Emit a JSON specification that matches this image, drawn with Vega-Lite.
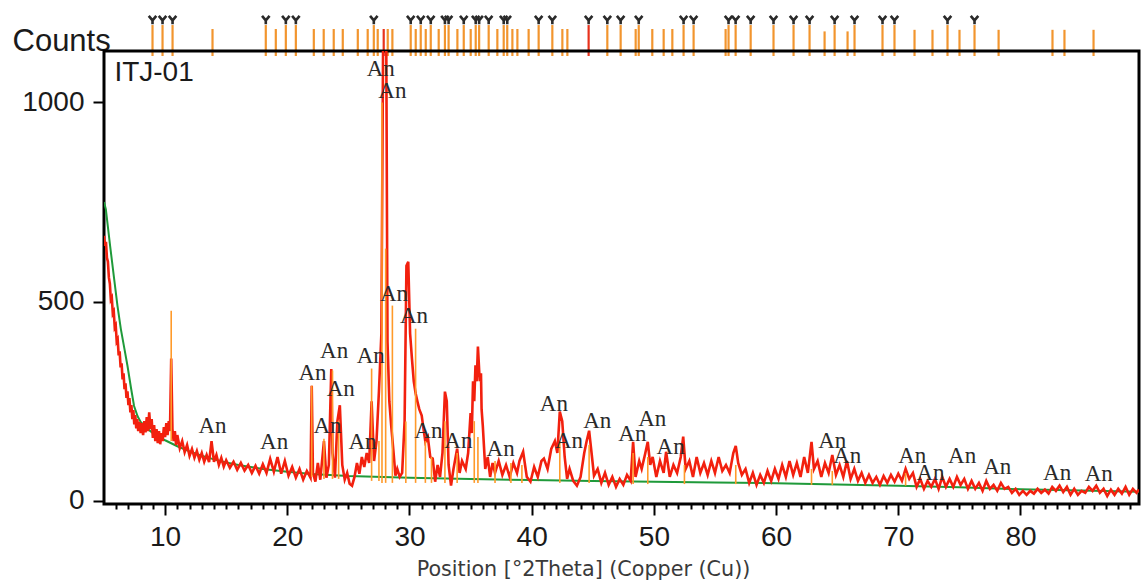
{
  "$schema": "https://vega.github.io/schema/vega-lite/v6.json",
  "background": "white",
  "padding": {"left": 12, "top": 10, "right": 2, "bottom": 2},
  "spacing": 0,
  "bounds": "flush",
  "config": {"axis": {"grid": false}},
  "datasets": {
    "red": [
      {"t":5.0,"c":665},{"t":5.08,"c":640},{"t":5.16,"c":650},{"t":5.24,"c":610},{"t":5.32,"c":600},{"t":5.4,"c":560},{"t":5.48,"c":545},{"t":5.56,"c":505},{"t":5.64,"c":510},{"t":5.72,"c":470},{"t":5.8,"c":475},{"t":5.88,"c":435},{"t":5.96,"c":440},{"t":6.04,"c":400},{"t":6.12,"c":405},{"t":6.2,"c":365},{"t":6.28,"c":375},{"t":6.36,"c":335},{"t":6.44,"c":345},{"t":6.52,"c":305},{"t":6.6,"c":320},{"t":6.68,"c":280},{"t":6.76,"c":295},{"t":6.84,"c":258},{"t":6.92,"c":275},{"t":7.0,"c":240},{"t":7.08,"c":258},{"t":7.16,"c":222},{"t":7.24,"c":240},{"t":7.32,"c":205},{"t":7.4,"c":228},{"t":7.48,"c":192},{"t":7.56,"c":215},{"t":7.64,"c":182},{"t":7.72,"c":205},{"t":7.8,"c":175},{"t":7.9,"c":198},{"t":8.0,"c":170},{"t":8.1,"c":195},{"t":8.2,"c":165},{"t":8.3,"c":200},{"t":8.4,"c":172},{"t":8.5,"c":210},{"t":8.6,"c":175},{"t":8.7,"c":222},{"t":8.8,"c":180},{"t":8.9,"c":205},{"t":9.0,"c":158},{"t":9.1,"c":190},{"t":9.2,"c":150},{"t":9.3,"c":180},{"t":9.4,"c":145},{"t":9.5,"c":175},{"t":9.6,"c":142},{"t":9.7,"c":170},{"t":9.8,"c":150},{"t":9.9,"c":185},{"t":10.0,"c":160},{"t":10.1,"c":195},{"t":10.2,"c":165},{"t":10.3,"c":200},{"t":10.4,"c":175},{"t":10.5,"c":357},{"t":10.6,"c":180},{"t":10.7,"c":150},{"t":10.8,"c":175},{"t":10.9,"c":140},{"t":11.0,"c":165},
      {"t":11.2,"c":132},{"t":11.4,"c":150},{"t":11.6,"c":122},{"t":11.8,"c":140},{"t":12.0,"c":113},{"t":12.2,"c":130},{"t":12.4,"c":108},{"t":12.6,"c":125},{"t":12.8,"c":103},{"t":13.0,"c":120},{"t":13.2,"c":98},{"t":13.4,"c":115},{"t":13.6,"c":97},{"t":13.8,"c":150},{"t":14.0,"c":98},{"t":14.2,"c":115},{"t":14.4,"c":90},{"t":14.6,"c":108},{"t":14.8,"c":86},{"t":15.0,"c":102},{"t":15.3,"c":83},{"t":15.6,"c":98},{"t":15.9,"c":78},{"t":16.2,"c":95},{"t":16.5,"c":76},{"t":16.8,"c":90},{"t":17.1,"c":70},{"t":17.4,"c":88},{"t":17.7,"c":68},{"t":18.0,"c":92},{"t":18.3,"c":70},{"t":18.6,"c":105},{"t":18.9,"c":73},{"t":19.2,"c":110},{"t":19.5,"c":68},{"t":19.8,"c":100},{"t":20.1,"c":63},{"t":20.4,"c":85},{"t":20.7,"c":58},{"t":21.0,"c":80},{"t":21.3,"c":53},{"t":21.6,"c":75},{"t":21.9,"c":58},{"t":22.0,"c":289},{"t":22.1,"c":70},{"t":22.3,"c":48},{"t":22.5,"c":95},{"t":22.7,"c":53},{"t":23.0,"c":150},{"t":23.2,"c":58},{"t":23.4,"c":90},{"t":23.6,"c":331},{"t":23.7,"c":120},{"t":23.9,"c":58},{"t":24.1,"c":200},{"t":24.3,"c":240},{"t":24.5,"c":90},{"t":24.7,"c":53},{"t":24.9,"c":70},{"t":25.1,"c":43},{"t":25.3,"c":38},{"t":25.5,"c":60},{"t":25.7,"c":95},{"t":25.9,"c":68},{"t":26.1,"c":110},{"t":26.3,"c":85},{"t":26.5,"c":120},{"t":26.7,"c":95},{"t":26.9,"c":250},{"t":27.1,"c":100},{"t":27.3,"c":150},{"t":27.5,"c":275},{"t":27.7,"c":420},{"t":27.85,"c":1200},{"t":28.0,"c":1200},{"t":28.1,"c":1150},{"t":28.2,"c":400},{"t":28.35,"c":250},{"t":28.5,"c":190},{"t":28.7,"c":120},{"t":28.85,"c":63},{"t":29.0,"c":80},{"t":29.2,"c":60},{"t":29.4,"c":70},{"t":29.6,"c":200},{"t":29.75,"c":590},{"t":29.9,"c":600},{"t":30.05,"c":420},{"t":30.2,"c":357},{"t":30.35,"c":300},{"t":30.5,"c":270},{"t":30.65,"c":249},{"t":30.8,"c":230},{"t":31.0,"c":214},{"t":31.15,"c":180},{"t":31.3,"c":148},{"t":31.5,"c":160},{"t":31.7,"c":110},{"t":31.9,"c":106},{"t":32.1,"c":48},{"t":32.3,"c":90},{"t":32.5,"c":60},{"t":32.7,"c":120},{"t":32.9,"c":274},{"t":33.05,"c":250},{"t":33.2,"c":90},{"t":33.4,"c":38},{"t":33.6,"c":80},{"t":33.9,"c":131},{"t":34.1,"c":70},{"t":34.3,"c":100},{"t":34.6,"c":80},{"t":34.8,"c":120},{"t":35.0,"c":220},{"t":35.1,"c":170},{"t":35.2,"c":300},{"t":35.3,"c":250},{"t":35.4,"c":340},{"t":35.5,"c":300},{"t":35.6,"c":387},{"t":35.75,"c":300},{"t":35.85,"c":320},{"t":35.9,"c":230},{"t":36.0,"c":188},{"t":36.2,"c":80},{"t":36.4,"c":110},{"t":36.6,"c":60},{"t":36.8,"c":95},{"t":37.0,"c":70},{"t":37.3,"c":100},{"t":37.6,"c":65},{"t":37.9,"c":90},{"t":38.2,"c":60},{"t":38.5,"c":95},{"t":38.8,"c":70},{"t":39.0,"c":100},{"t":39.3,"c":123},{"t":39.6,"c":60},{"t":39.9,"c":48},{"t":40.2,"c":85},{"t":40.5,"c":60},{"t":40.8,"c":100},{"t":41.0,"c":106},{"t":41.3,"c":80},{"t":41.6,"c":130},{"t":41.9,"c":150},{"t":42.1,"c":120},{"t":42.3,"c":224},{"t":42.5,"c":200},{"t":42.7,"c":110},{"t":42.9,"c":55},{"t":43.1,"c":80},{"t":43.4,"c":50},{"t":43.7,"c":38},{"t":44.0,"c":60},{"t":44.3,"c":120},{"t":44.5,"c":150},{"t":44.7,"c":176},{"t":44.9,"c":120},{"t":45.1,"c":63},{"t":45.4,"c":80},{"t":45.7,"c":45},{"t":46.0,"c":70},{"t":46.3,"c":40},{"t":46.6,"c":60},{"t":46.9,"c":35},{"t":47.2,"c":55},{"t":47.5,"c":40},{"t":47.8,"c":65},{"t":48.1,"c":50},{"t":48.3,"c":148},{"t":48.5,"c":60},{"t":48.8,"c":100},{"t":49.0,"c":80},{"t":49.3,"c":120},{"t":49.5,"c":148},{"t":49.7,"c":90},{"t":49.9,"c":110},{"t":50.2,"c":60},{"t":50.5,"c":100},{"t":50.8,"c":70},{"t":51.0,"c":123},{"t":51.3,"c":60},{"t":51.6,"c":90},{"t":51.9,"c":70},{"t":52.2,"c":110},{"t":52.4,"c":161},{"t":52.6,"c":80},{"t":52.9,"c":100},{"t":53.2,"c":60},{"t":53.5,"c":110},{"t":53.8,"c":70},{"t":54.1,"c":95},{"t":54.4,"c":65},{"t":54.7,"c":100},{"t":55.0,"c":70},{"t":55.3,"c":110},{"t":55.6,"c":75},{"t":55.9,"c":90},{"t":56.2,"c":70},{"t":56.5,"c":120},{"t":56.7,"c":138},{"t":56.9,"c":95},{"t":57.2,"c":65},{"t":57.5,"c":80},{"t":57.8,"c":45},{"t":58.1,"c":70},{"t":58.4,"c":40},{"t":58.7,"c":65},{"t":59.0,"c":45},{"t":59.3,"c":75},{"t":59.6,"c":50},{"t":59.9,"c":80},{"t":60.2,"c":55},{"t":60.5,"c":90},{"t":60.8,"c":60},{"t":61.1,"c":100},{"t":61.4,"c":65},{"t":61.7,"c":95},{"t":62.0,"c":60},{"t":62.3,"c":110},{"t":62.6,"c":70},{"t":62.9,"c":148},{"t":63.1,"c":80},{"t":63.4,"c":100},{"t":63.7,"c":60},{"t":64.0,"c":95},{"t":64.3,"c":70},{"t":64.6,"c":115},{"t":64.9,"c":65},{"t":65.2,"c":90},{"t":65.5,"c":60},{"t":65.8,"c":100},{"t":66.1,"c":55},{"t":66.4,"c":80},{"t":66.7,"c":50},{"t":67.0,"c":70},{"t":67.3,"c":45},{"t":67.6,"c":65},{"t":67.9,"c":45},{"t":68.2,"c":60},{"t":68.5,"c":40},{"t":68.8,"c":62},{"t":69.1,"c":45},{"t":69.4,"c":65},{"t":69.7,"c":48},{"t":70.0,"c":68},{"t":70.3,"c":50},{"t":70.6,"c":80},{"t":70.9,"c":55},{"t":71.2,"c":70},{"t":71.5,"c":35},{"t":71.8,"c":55},{"t":72.1,"c":30},{"t":72.4,"c":50},{"t":72.7,"c":35},{"t":73.0,"c":55},{"t":73.3,"c":30},{"t":73.6,"c":60},{"t":73.9,"c":35},{"t":74.2,"c":55},{"t":74.5,"c":35},{"t":74.8,"c":60},{"t":75.1,"c":40},{"t":75.4,"c":55},{"t":75.7,"c":30},{"t":76.0,"c":50},{"t":76.3,"c":30},{"t":76.6,"c":45},{"t":76.9,"c":25},{"t":77.2,"c":50},{"t":77.5,"c":30},{"t":77.8,"c":40},{"t":78.1,"c":25},{"t":78.4,"c":45},{"t":78.7,"c":30},{"t":79.0,"c":35},{"t":79.3,"c":20},{"t":79.6,"c":30},{"t":79.9,"c":15},{"t":80.2,"c":25},{"t":80.5,"c":15},{"t":80.8,"c":25},{"t":81.1,"c":18},{"t":81.4,"c":30},{"t":81.7,"c":20},{"t":82.0,"c":28},{"t":82.3,"c":18},{"t":82.6,"c":35},{"t":82.9,"c":25},{"t":83.2,"c":38},{"t":83.5,"c":22},{"t":83.8,"c":35},{"t":84.1,"c":15},{"t":84.4,"c":30},{"t":84.7,"c":15},{"t":85.0,"c":25},{"t":85.3,"c":20},{"t":85.6,"c":35},{"t":85.9,"c":25},{"t":86.2,"c":38},{"t":86.5,"c":20},{"t":86.8,"c":30},{"t":87.1,"c":12},{"t":87.4,"c":28},{"t":87.7,"c":15},{"t":88.0,"c":30},{"t":88.3,"c":18},{"t":88.6,"c":35},{"t":88.9,"c":15},{"t":89.2,"c":30},{"t":89.5,"c":20},{"t":89.7,"c":28}
    ],
    "bg": [
      {"t":5.0,"c":750},{"t":5.15,"c":732},{"t":5.5,"c":640},{"t":5.83,"c":557},{"t":6.1,"c":490},{"t":6.38,"c":431},{"t":6.65,"c":385},{"t":6.92,"c":339},{"t":7.2,"c":285},{"t":7.46,"c":238},{"t":7.75,"c":212},{"t":8.0,"c":198},{"t":8.5,"c":182},{"t":9.0,"c":170},{"t":10.0,"c":152},{"t":11.0,"c":137},{"t":12.0,"c":124},{"t":13.0,"c":113},{"t":14.0,"c":104},{"t":15.0,"c":96},{"t":16.0,"c":90},{"t":17.0,"c":85},{"t":18.0,"c":80},{"t":20.0,"c":73},{"t":22.0,"c":67},{"t":25.0,"c":62},{"t":30.0,"c":58},{"t":35.0,"c":55},{"t":40.0,"c":52},{"t":45.0,"c":50},{"t":50.0,"c":48},{"t":55.0,"c":46},{"t":60.0,"c":44},{"t":65.0,"c":41},{"t":70.0,"c":38},{"t":75.0,"c":34},{"t":80.0,"c":29},{"t":85.0,"c":26},{"t":89.7,"c":23}
    ],
    "sticks": [
      {"t":10.5,"b":150,"c":477},{"t":22.0,"b":60,"c":289},{"t":23.0,"b":55,"c":156},{"t":23.7,"b":55,"c":327},{"t":24.2,"b":55,"c":200},{"t":26.9,"b":50,"c":332},{"t":27.5,"b":50,"c":150},{"t":27.75,"b":45,"c":1000},{"t":28.05,"b":45,"c":633},{"t":28.6,"b":45,"c":490},{"t":29.7,"b":45,"c":199},{"t":30.5,"b":45,"c":432},{"t":31.3,"b":45,"c":150},{"t":31.8,"b":45,"c":110},{"t":32.9,"b":45,"c":200},{"t":33.9,"b":45,"c":120},{"t":35.3,"b":45,"c":200},{"t":35.6,"b":45,"c":160},{"t":37.0,"b":45,"c":100},{"t":38.3,"b":45,"c":95},{"t":39.2,"b":45,"c":90},{"t":42.3,"b":45,"c":150},{"t":44.7,"b":45,"c":140},{"t":48.3,"b":42,"c":120},{"t":49.5,"b":42,"c":110},{"t":52.5,"b":42,"c":90},{"t":56.7,"b":42,"c":90},{"t":62.9,"b":40,"c":80},{"t":64.6,"b":40,"c":75},{"t":70.6,"b":38,"c":70}
    ],
    "labels": [
      {"t":27.65,"c":1083,"txt":"An"},{"t":28.6,"c":1029,"txt":"An"},{"t":28.73,"c":519,"txt":"An"},{"t":30.37,"c":464,"txt":"An"},{"t":13.88,"c":188,"txt":"An"},{"t":18.92,"c":147,"txt":"An"},{"t":22.06,"c":322,"txt":"An"},{"t":23.83,"c":376,"txt":"An"},{"t":24.37,"c":280,"txt":"An"},{"t":23.29,"c":188,"txt":"An"},{"t":26.83,"c":364,"txt":"An"},{"t":26.15,"c":147,"txt":"An"},{"t":31.55,"c":174,"txt":"An"},{"t":34.0,"c":149,"txt":"An"},{"t":37.46,"c":130,"txt":"An"},{"t":41.82,"c":243,"txt":"An"},{"t":43.05,"c":151,"txt":"An"},{"t":45.37,"c":201,"txt":"An"},{"t":48.24,"c":167,"txt":"An"},{"t":49.87,"c":205,"txt":"An"},{"t":51.37,"c":134,"txt":"An"},{"t":64.6,"c":151,"txt":"An"},{"t":65.82,"c":113,"txt":"An"},{"t":71.14,"c":113,"txt":"An"},{"t":72.64,"c":71,"txt":"An"},{"t":75.23,"c":113,"txt":"An"},{"t":78.1,"c":84,"txt":"An"},{"t":83.0,"c":71,"txt":"An"},{"t":86.41,"c":67,"txt":"An"}
    ],
    "sample": [{"t":5.85,"c":1054,"txt":"ITJ-01"}],
    "strip": [
      {"t":8.97,"h":0.78,"peak":true,"kind":"ref"},{"t":9.79,"h":0.78,"peak":true,"kind":"ref"},{"t":10.61,"h":0.78,"peak":true,"kind":"ref"},{"t":13.88,"h":0.68,"peak":false,"kind":"ref"},{"t":18.24,"h":0.78,"peak":true,"kind":"ref"},{"t":19.06,"h":0.68,"peak":false,"kind":"ref"},{"t":19.88,"h":0.78,"peak":true,"kind":"ref"},{"t":20.7,"h":0.78,"peak":true,"kind":"ref"},{"t":22.17,"h":0.68,"peak":false,"kind":"ref"},{"t":22.98,"h":0.68,"peak":false,"kind":"ref"},{"t":23.8,"h":0.68,"peak":false,"kind":"ref"},{"t":24.54,"h":0.68,"peak":false,"kind":"ref"},{"t":25.77,"h":0.68,"peak":false,"kind":"ref"},{"t":26.58,"h":0.68,"peak":false,"kind":"ref"},{"t":27.08,"h":0.78,"peak":true,"kind":"ref"},{"t":27.4,"h":0.68,"peak":false,"kind":"ref"},{"t":27.89,"h":0.68,"peak":false,"kind":"red"},{"t":28.22,"h":0.68,"peak":false,"kind":"ref"},{"t":28.6,"h":0.68,"peak":false,"kind":"ref"},{"t":30.1,"h":0.78,"peak":true,"kind":"ref"},{"t":30.51,"h":0.68,"peak":false,"kind":"ref"},{"t":30.92,"h":0.78,"peak":true,"kind":"ref"},{"t":31.33,"h":0.68,"peak":false,"kind":"ref"},{"t":31.74,"h":0.78,"peak":true,"kind":"ref"},{"t":32.39,"h":0.68,"peak":false,"kind":"ref"},{"t":32.9,"h":0.78,"peak":true,"kind":"ref"},{"t":33.2,"h":0.78,"peak":true,"kind":"ref"},{"t":33.92,"h":0.68,"peak":false,"kind":"ref"},{"t":34.44,"h":0.78,"peak":true,"kind":"ref"},{"t":35.01,"h":0.68,"peak":false,"kind":"ref"},{"t":35.42,"h":0.78,"peak":true,"kind":"ref"},{"t":35.7,"h":0.78,"peak":true,"kind":"ref"},{"t":36.48,"h":0.78,"peak":true,"kind":"ref"},{"t":37.19,"h":0.68,"peak":false,"kind":"ref"},{"t":37.71,"h":0.78,"peak":true,"kind":"ref"},{"t":38.0,"h":0.78,"peak":true,"kind":"ref"},{"t":38.42,"h":0.68,"peak":false,"kind":"ref"},{"t":38.83,"h":0.68,"peak":false,"kind":"ref"},{"t":39.75,"h":0.68,"peak":false,"kind":"ref"},{"t":40.57,"h":0.78,"peak":true,"kind":"ref"},{"t":41.69,"h":0.78,"peak":true,"kind":"ref"},{"t":42.51,"h":0.68,"peak":false,"kind":"ref"},{"t":42.92,"h":0.68,"peak":false,"kind":"ref"},{"t":44.66,"h":0.78,"peak":true,"kind":"red"},{"t":46.19,"h":0.78,"peak":true,"kind":"ref"},{"t":47.28,"h":0.78,"peak":true,"kind":"ref"},{"t":48.51,"h":0.68,"peak":false,"kind":"ref"},{"t":48.76,"h":0.78,"peak":true,"kind":"ref"},{"t":49.87,"h":0.68,"peak":false,"kind":"ref"},{"t":50.8,"h":0.68,"peak":false,"kind":"ref"},{"t":51.51,"h":0.68,"peak":false,"kind":"ref"},{"t":52.43,"h":0.78,"peak":true,"kind":"ref"},{"t":53.25,"h":0.78,"peak":true,"kind":"ref"},{"t":55.87,"h":0.68,"peak":false,"kind":"ref"},{"t":56.11,"h":0.78,"peak":true,"kind":"ref"},{"t":56.69,"h":0.78,"peak":true,"kind":"ref"},{"t":57.92,"h":0.78,"peak":true,"kind":"ref"},{"t":59.79,"h":0.78,"peak":true,"kind":"ref"},{"t":61.43,"h":0.78,"peak":true,"kind":"ref"},{"t":62.74,"h":0.78,"peak":true,"kind":"ref"},{"t":63.97,"h":0.62,"peak":false,"kind":"ref"},{"t":64.79,"h":0.78,"peak":true,"kind":"ref"},{"t":65.85,"h":0.62,"peak":false,"kind":"ref"},{"t":66.42,"h":0.78,"peak":true,"kind":"ref"},{"t":68.71,"h":0.78,"peak":true,"kind":"ref"},{"t":69.69,"h":0.78,"peak":true,"kind":"ref"},{"t":71.33,"h":0.66,"peak":false,"kind":"ref"},{"t":72.8,"h":0.66,"peak":false,"kind":"ref"},{"t":74.03,"h":0.78,"peak":true,"kind":"ref"},{"t":75.01,"h":0.66,"peak":false,"kind":"ref"},{"t":76.24,"h":0.78,"peak":true,"kind":"ref"},{"t":78.21,"h":0.66,"peak":false,"kind":"ref"},{"t":82.62,"h":0.66,"peak":false,"kind":"ref"},{"t":83.6,"h":0.66,"peak":false,"kind":"ref"},{"t":85.98,"h":0.66,"peak":false,"kind":"ref"}
    ]
  },
  "vconcat": [
    {
      "width": 1035,
      "height": 40,
      "view": {"stroke": null},
      "data": {"name": "strip"},
      "encoding": {
        "x": {"field": "t", "type": "quantitative", "scale": {"domain": [5, 89.7], "nice": false, "zero": false}, "axis": null}
      },
      "layer": [
        {
          "mark": {"type": "rule", "strokeWidth": 2.2},
          "encoding": {
            "y": {"field": "h", "type": "quantitative", "scale": {"domain": [0.126, 1.134], "nice": false, "zero": false},
              "axis": {"title": "Counts", "titleAngle": 0, "titleAlign": "left", "titleBaseline": "alphabetic", "titleX": -92, "titleY": 39, "titleFont": "Liberation Sans", "titleFontSize": 31, "titleFontWeight": "normal", "titleColor": "#1a1a1a", "labels": false, "ticks": false, "domain": false, "grid": false}},
            "y2": {"datum": 0},
            "color": {"field": "kind", "type": "nominal", "scale": {"domain": ["ref", "red"], "range": ["#f2952e", "#e8321c"]}, "legend": null}
          }
        },
        {
          "transform": [{"filter": "datum.peak"}],
          "mark": {"type": "point", "shape": "M-0.9,-1L0,0.1L0.9,-1M0,0L0,1", "filled": false, "stroke": "#2a2a2a", "strokeWidth": 2.6, "size": 70, "opacity": 1},
          "encoding": {
            "y": {"datum": 0.907, "type": "quantitative"}
          }
        }
      ]
    },
    {
      "width": 1035,
      "height": 453,
      "view": {"stroke": "#000000", "strokeWidth": 3},
      "resolve": {"axis": {"x": "independent"}},
      "encoding": {
        "x": {"field": "t", "type": "quantitative", "scale": {"domain": [5, 89.7], "nice": false, "zero": false}, "axis": null},
        "y": {"field": "c", "type": "quantitative", "scale": {"domain": [-8, 1129], "nice": false, "zero": false},
          "axis": {"title": null, "values": [0, 500, 1000], "format": "d", "tickSize": 11, "tickWidth": 2, "tickColor": "#000", "domain": false,
            "labelFont": "Liberation Sans", "labelFontSize": 28, "labelColor": "#1a1a1a", "labelPadding": 9}}
      },
      "layer": [
        {
          "data": {"name": "bg"},
          "mark": {"type": "line", "color": "#1f9a3a", "strokeWidth": 2, "clip": true},
          "encoding": {
            "x": {"field": "t", "type": "quantitative", "scale": {"domain": [5, 89.7], "nice": false, "zero": false},
              "axis": {"orient": "bottom", "title": "Position [°2Theta] (Copper (Cu))", "values": [10,20,30,40,50,60,70,80],
                "tickSize": 11, "tickWidth": 2, "tickColor": "#000", "domain": false, "labelFlush": false,
                "labelFont": "Liberation Sans", "labelFontSize": 28, "labelColor": "#1a1a1a", "labelPadding": 8,
                "titleFont": "DejaVu Sans", "titleFontSize": 20.7, "titleFontWeight": "normal", "titleColor": "#3a3a3a",
                "titleX": 479, "titleY": 71, "titleAlign": "center", "titleBaseline": "alphabetic"}}
          }
        },
        {
          "data": {"name": "red"},
          "mark": {"type": "line", "color": "#f2200e", "strokeWidth": 2.6, "clip": true}
        },
        {
          "data": {"name": "sticks"},
          "mark": {"type": "rule", "color": "#ff9a2a", "strokeWidth": 1.6, "clip": true},
          "encoding": {
            "x": {"field": "t", "type": "quantitative", "scale": {"domain": [5, 89.7], "nice": false, "zero": false},
              "axis": {"orient": "bottom", "title": null, "labels": false, "domain": false, "tickSize": 5, "tickWidth": 2, "tickColor": "#000",
                "values": [6,7,8,9,11,12,13,14,15,16,17,18,19,21,22,23,24,25,26,27,28,29,31,32,33,34,35,36,37,38,39,41,42,43,44,45,46,47,48,49,51,52,53,54,55,56,57,58,59,61,62,63,64,65,66,67,68,69,71,72,73,74,75,76,77,78,79,81,82,83,84,85,86,87,88,89]}},
            "y2": {"field": "b"}
          }
        },
        {
          "data": {"name": "labels"},
          "mark": {"type": "text", "font": "Liberation Serif", "fontSize": 23, "color": "#2a2a2a", "align": "center", "baseline": "middle"},
          "encoding": {"text": {"field": "txt"}}
        },
        {
          "data": {"name": "sample"},
          "mark": {"type": "text", "font": "Liberation Sans", "fontSize": 28, "color": "#1a1a1a", "align": "left", "baseline": "alphabetic"},
          "encoding": {"text": {"field": "txt"}}
        }
      ]
    }
  ]
}
